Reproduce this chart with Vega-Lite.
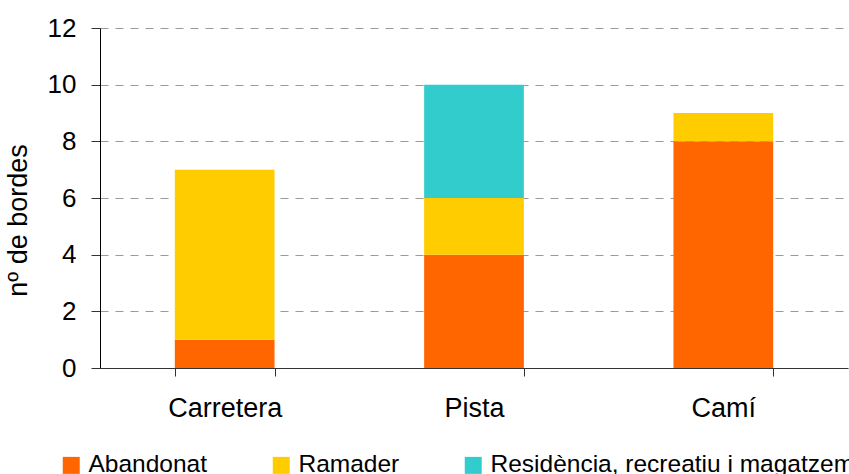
{
  "$schema": "https://vega.github.io/schema/vega-lite/v6.json",
  "width": 748,
  "height": 340,
  "autosize": "none",
  "padding": {"left": 100, "top": 28, "right": 1, "bottom": 106},
  "background": "white",
  "config": {
    "view": {"stroke": null},
    "font": "Liberation Sans"
  },
  "data": {
    "values": [
      {"via": "Carretera", "us": "Abandonat", "n": 1},
      {"via": "Carretera", "us": "Ramader", "n": 6},
      {"via": "Pista", "us": "Abandonat", "n": 4},
      {"via": "Pista", "us": "Ramader", "n": 2},
      {"via": "Pista", "us": "Residència, recreatiu i magatzem", "n": 4},
      {"via": "Camí", "us": "Abandonat", "n": 8},
      {"via": "Camí", "us": "Ramader", "n": 1}
    ]
  },
  "mark": {"type": "bar", "strokeWidth": 0},
  "encoding": {
    "x": {
      "field": "via",
      "type": "nominal",
      "sort": ["Carretera", "Pista", "Camí"],
      "scale": {"paddingInner": 0.6, "paddingOuter": 0.3},
      "axis": {
        "title": null,
        "labelAngle": 0,
        "labelFont": "Liberation Sans",
        "labelFontSize": 27,
        "labelColor": "black",
        "labelPadding": 19,
        "tickSize": 8,
        "tickColor": "#333",
        "tickBand": "extent",
        "domainColor": "#333",
        "grid": false
      }
    },
    "y": {
      "field": "n",
      "type": "quantitative",
      "stack": "zero",
      "scale": {"domain": [0, 12], "nice": false},
      "axis": {
        "title": "nº de bordes",
        "values": [0, 2, 4, 6, 8, 10, 12],
        "labelFont": "Liberation Sans",
        "labelFontSize": 26,
        "labelColor": "black",
        "labelPadding": 15,
        "tickSize": 9,
        "tickColor": "#333",
        "domainColor": "black",
        "grid": true,
        "gridColor": "#9a9a9a",
        "gridDash": [8, 7],
        "gridWidth": 1.2,
        "titleFont": "Liberation Sans",
        "titleFontSize": 27,
        "titleFontWeight": "normal",
        "titleColor": "black",
        "titleX": -68,
        "titleY": 192
      }
    },
    "order": {"field": "us", "sort": "ascending"},
    "color": {
      "field": "us",
      "type": "nominal",
      "scale": {
        "domain": ["Abandonat", "Ramader", "Residència, recreatiu i magatzem"],
        "range": ["#FF6600", "#FFCC00", "#33CCCC"]
      },
      "legend": {
        "title": null,
        "orient": "none",
        "direction": "horizontal",
        "legendX": -41,
        "legendY": 425,
        "symbolType": "square",
        "symbolSize": 289,
        "symbolStrokeWidth": 0,
        "labelFont": "Liberation Sans",
        "labelFontSize": 24.5,
        "labelColor": "black",
        "labelOffset": 5,
        "columnPadding": 61,
        "labelLimit": 500
      }
    }
  }
}
